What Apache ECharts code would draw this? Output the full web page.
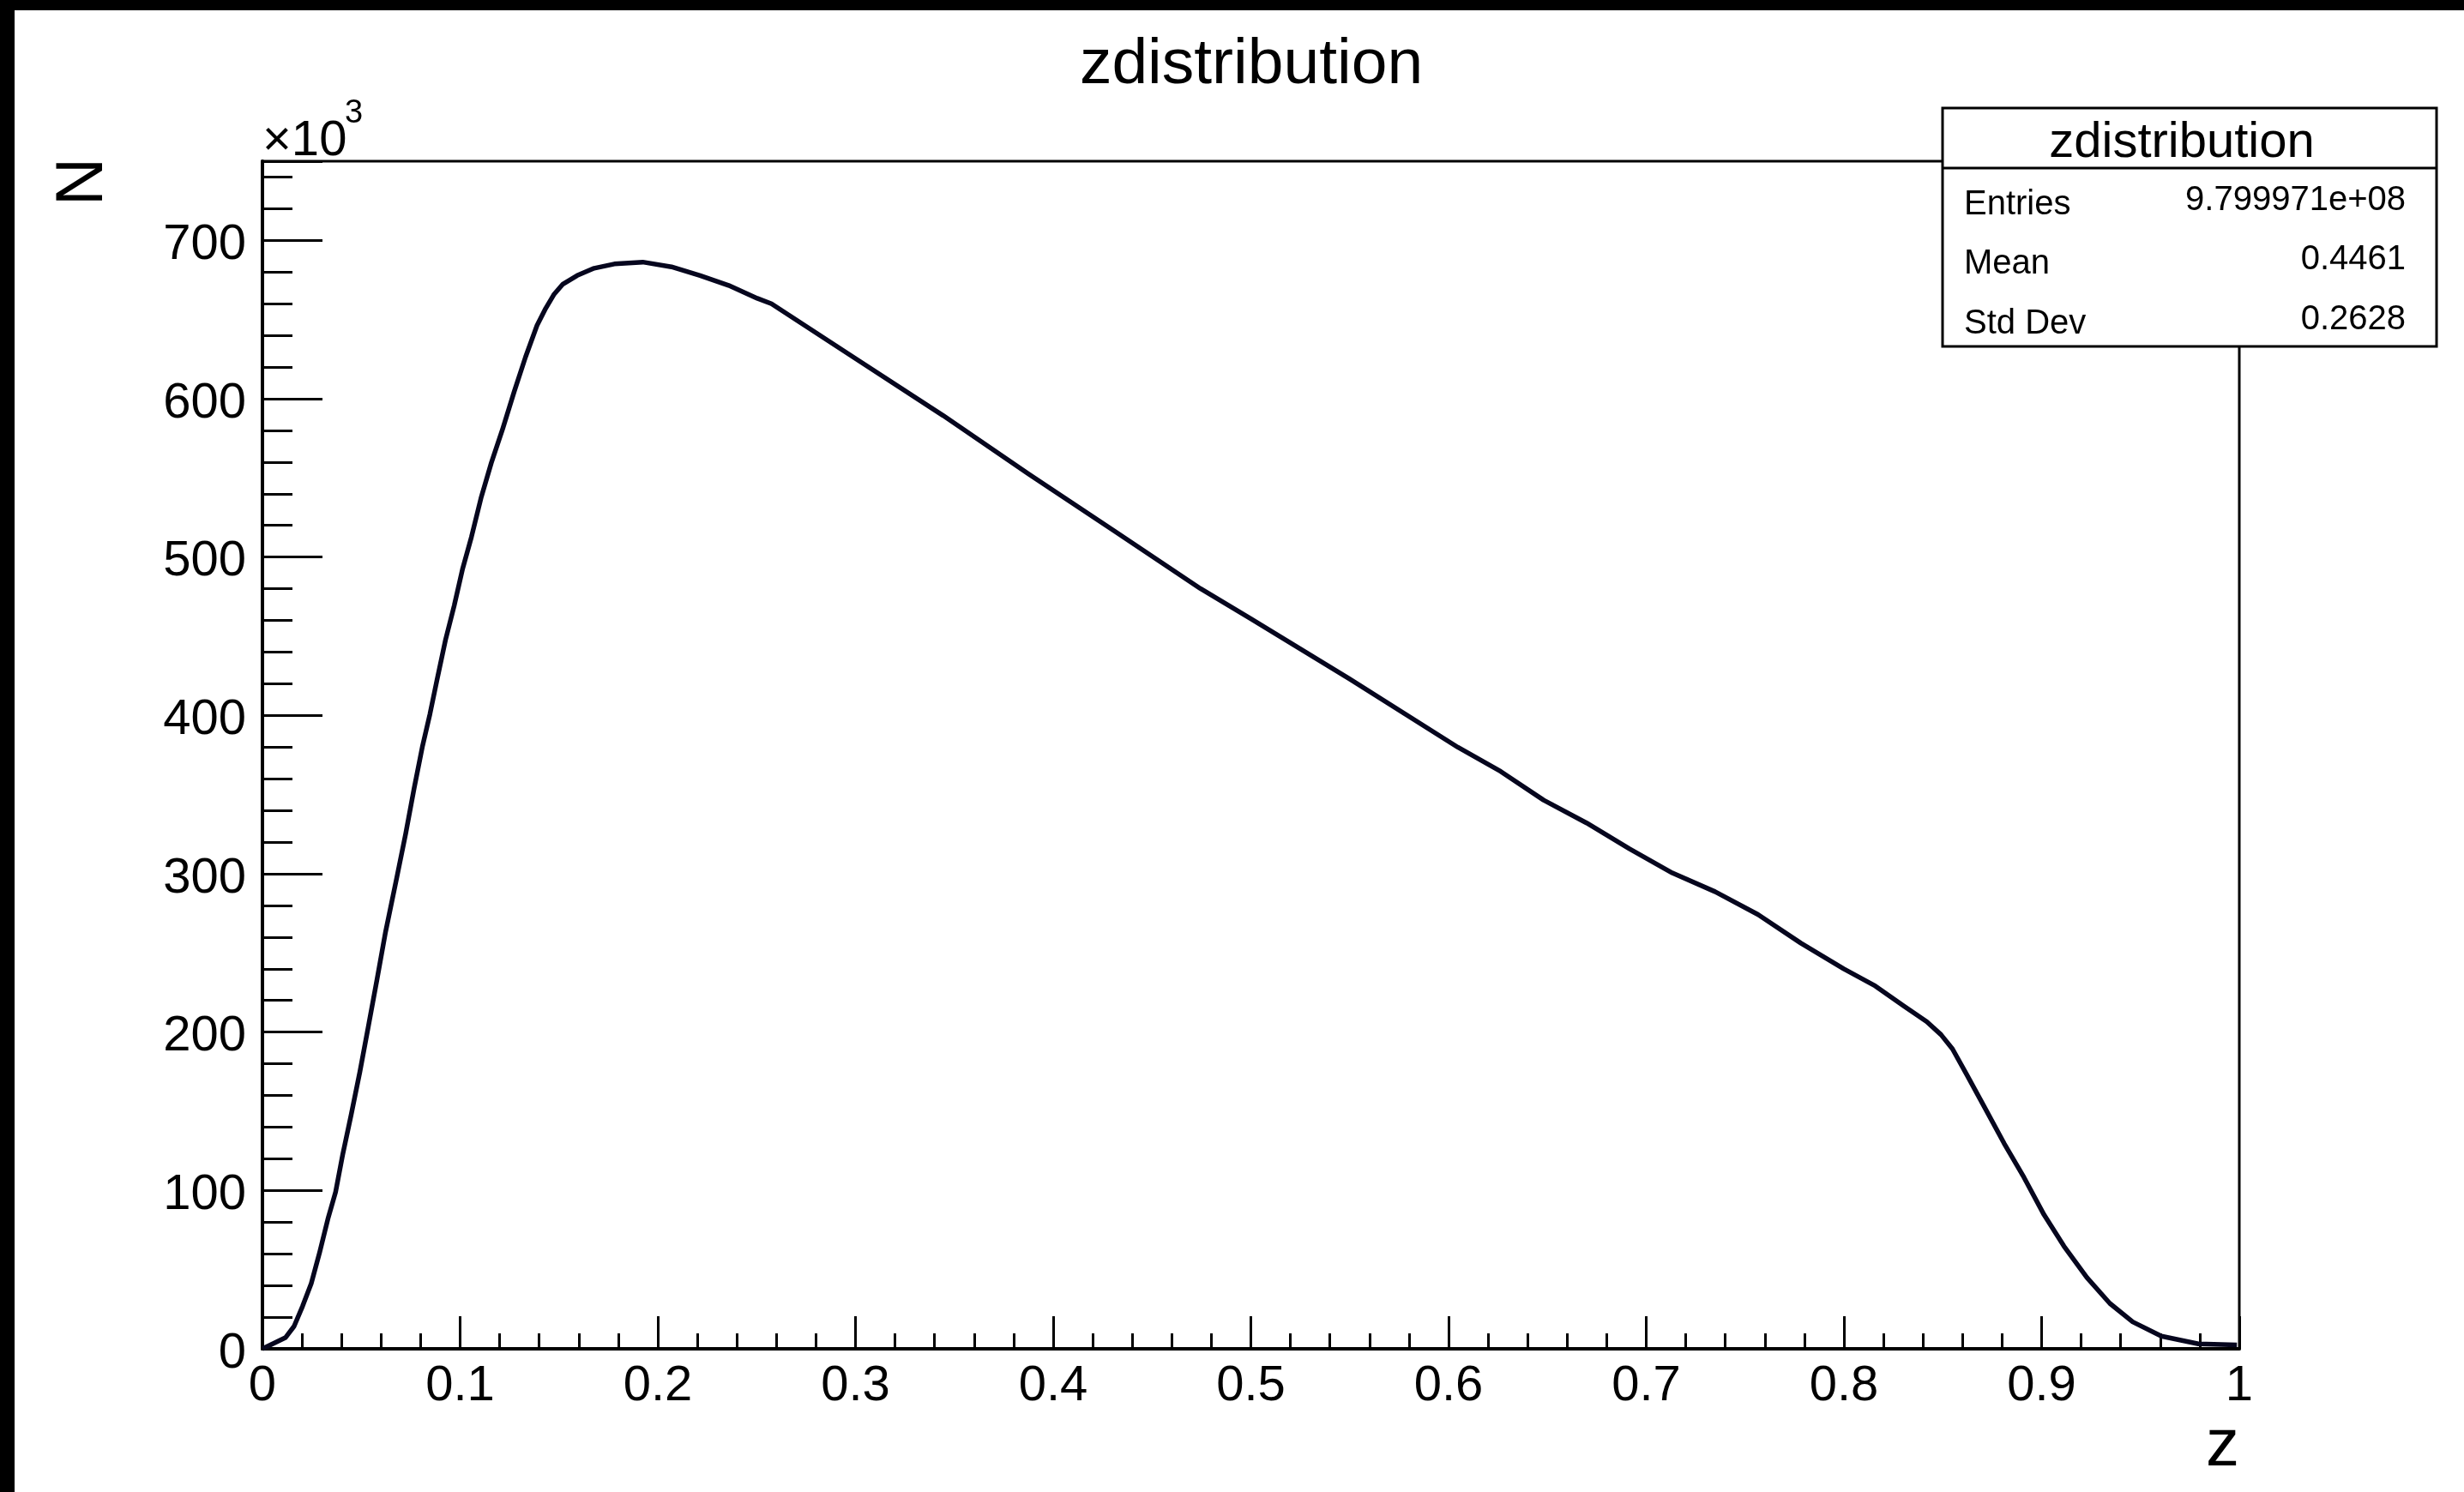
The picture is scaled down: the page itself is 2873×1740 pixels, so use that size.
<!DOCTYPE html>
<html>
<head>
<meta charset="utf-8">
<title>zdistribution</title>
<script src="https://cdn.jsdelivr.net/npm/echarts@6/dist/echarts.min.js"></script>
<style>
  html, body { margin: 0; padding: 0; background: #ffffff; }
  #chart { width: 2873px; height: 1740px; }
</style>
</head>
<body>
<div id="chart"></div>
<script>
// z value at the sampled points along the histogram curve
const zValues = [
  0, 0.0116, 0.016, 0.0203, 0.0247, 0.029, 0.0333, 0.037, 0.0406, 0.0449,
  0.0493, 0.0536, 0.0579, 0.0623, 0.068, 0.0724, 0.0767, 0.081, 0.0847, 0.0883,
  0.0926, 0.097, 0.1013, 0.1057, 0.1107, 0.1158, 0.1216, 0.1274, 0.1331, 0.1389,
  0.1433, 0.1476, 0.152, 0.1592, 0.1678, 0.178, 0.1924, 0.2069, 0.2214, 0.2358,
  0.2503, 0.2575, 0.3009, 0.3443, 0.3877, 0.4311, 0.4745, 0.5, 0.55, 0.6047,
  0.6264, 0.6481, 0.6698, 0.6915, 0.7132, 0.7348, 0.7565, 0.7782, 0.7999, 0.8159,
  0.8303, 0.8419, 0.8491, 0.8549, 0.8621, 0.8708, 0.881, 0.8911, 0.9012, 0.9113,
  0.9229, 0.9345, 0.9461, 0.9606, 0.9793, 0.9988
];

// entries per bin, in units of 10^3
const countsK = [
  0, 7.0, 14.2, 26.9, 41.3, 61.2, 82.9, 99, 122.6, 147.9,
  175, 203.8, 232.8, 263.4, 297.8, 324.9, 353.7, 380.8, 400.7, 422.4,
  447.6, 469.3, 492.8, 512.6, 537.9, 559.6, 581.3, 604.7, 626.4, 646.3,
  657.1, 666.1, 672.4, 677.8, 682.4, 685.1, 686.3, 683.3, 677.8, 671.6,
  663.4, 660, 624.6, 589.4, 552.4, 516.3, 480.1, 461, 423, 379.9,
  364.6, 346.5, 332.1, 315.8, 300.5, 288.7, 274.3, 256.2, 240.0, 229.1,
  216.5, 206.6, 198.4, 189.4, 173.2, 153.3, 129.8, 108.2, 84.7, 64.8,
  45, 28.7, 17, 8, 3.1, 2.5
];

// statistics box contents
const statsTitle = 'zdistribution';
const statsLabels = ['Entries', 'Mean', 'Std Dev'];
const statsValues = ['9.799971e+08', '0.4461', '0.2628'];

const histTitle = 'zdistribution';
const xTitle = 'z';
const yTitle = 'N';

const FONT = '"Liberation Sans", Arial, Helvetica, sans-serif';
const curveData = zValues.map((z, i) => [z, countsK[i]]);

const chart = echarts.init(document.getElementById('chart'), null, { renderer: 'canvas' });

// text placed by its alphabetic baseline (zrender centres text on the em box)
function baselineText(x, baseline, text, size, align, extra) {
  return Object.assign({
    type: 'text',
    x: x,
    y: baseline - 0.31 * size,
    z: 100,
    style: {
      text: text,
      font: size + 'px ' + FONT,
      fill: '#000',
      align: align,
      verticalAlign: 'middle'
    }
  }, extra || {});
}

const statsGraphics = [
  {
    type: 'rect', z: 99,
    shape: { x: 2265, y: 126, width: 576, height: 278 },
    style: { fill: '#fff', stroke: '#000', lineWidth: 3 }
  },
  {
    type: 'line', z: 100,
    shape: { x1: 2265, y1: 196, x2: 2841, y2: 196 },
    style: { stroke: '#000', lineWidth: 3 }
  },
  baselineText(2544, 185, statsTitle, 58, 'center')
];
const labelBase = [251, 320, 390];
const valueBase = [246, 315, 385];
statsLabels.forEach((s, i) => {
  statsGraphics.push(baselineText(2290, labelBase[i], s, 40, 'left'));
  statsGraphics.push(baselineText(2805, valueBase[i], statsValues[i], 40, 'right'));
});

const option = {
  animation: false,
  backgroundColor: '#ffffff',
  textStyle: { fontFamily: FONT },
  grid: {
    left: 306, top: 188, width: 2305, height: 1385,
    show: true, borderColor: '#000', borderWidth: 3,
    backgroundColor: 'transparent'
  },
  xAxis: {
    type: 'value', min: 0, max: 1, interval: 0.1,
    axisLine: { show: true, onZero: false, lineStyle: { color: '#000', width: 4 } },
    axisTick: { show: true, inside: true, length: 38, lineStyle: { color: '#000', width: 3 } },
    minorTick: { show: true, splitNumber: 5, length: 18, lineStyle: { color: '#000', width: 3 } },
    splitLine: { show: false },
    minorSplitLine: { show: false },
    axisLabel: { color: '#000', fontSize: 58, fontFamily: FONT, margin: 15 }
  },
  yAxis: [
    {
      type: 'value', min: 0, max: 750, interval: 100, position: 'left',
      axisLine: { show: true, onZero: false, lineStyle: { color: '#000', width: 4 } },
      axisTick: { show: true, inside: true, length: 70, lineStyle: { color: '#000', width: 3 } },
      splitLine: { show: false },
      axisLabel: {
        color: '#000', fontSize: 58, fontFamily: FONT, margin: 19,
        verticalAlign: 'top', lineHeight: 11,
        formatter: v => (v % 100 === 0 ? String(v) : '')
      }
    },
    {
      type: 'value', min: 0, max: 750, interval: 20, position: 'left', offset: 0,
      axisLine: { show: false },
      axisTick: { show: true, inside: true, length: 35, lineStyle: { color: '#000', width: 3 } },
      splitLine: { show: false },
      axisLabel: { show: false }
    }
  ],
  series: [
    {
      type: 'line',
      xAxisIndex: 0,
      yAxisIndex: 0,
      data: curveData,
      showSymbol: false,
      smooth: false,
      lineStyle: { color: '#06061e', width: 5.5, join: 'round' },
      z: 5
    }
  ],
  graphic: [
    // canvas edge bands
    { type: 'rect', z: 101, shape: { x: 0, y: 0, width: 2873, height: 12 }, style: { fill: '#000' } },
    { type: 'rect', z: 101, shape: { x: 0, y: 0, width: 17, height: 1740 }, style: { fill: '#000' } },
    // histogram title
    baselineText(1459, 100, histTitle, 75, 'center'),
    // axis multiplier
    baselineText(306, 183, '\u00d710', 58, 'left'),
    baselineText(402, 144, '3', 38, 'left'),
    // axis titles
    baselineText(2611, 1712, xTitle, 78, 'right'),
    {
      type: 'text', x: 97, y: 212, rotation: Math.PI / 2, z: 100,
      style: { text: yTitle, font: '78px ' + FONT, fill: '#000', align: 'center', verticalAlign: 'middle' }
    }
  ].concat(statsGraphics)
};

chart.setOption(option);
</script>
</body>
</html>
